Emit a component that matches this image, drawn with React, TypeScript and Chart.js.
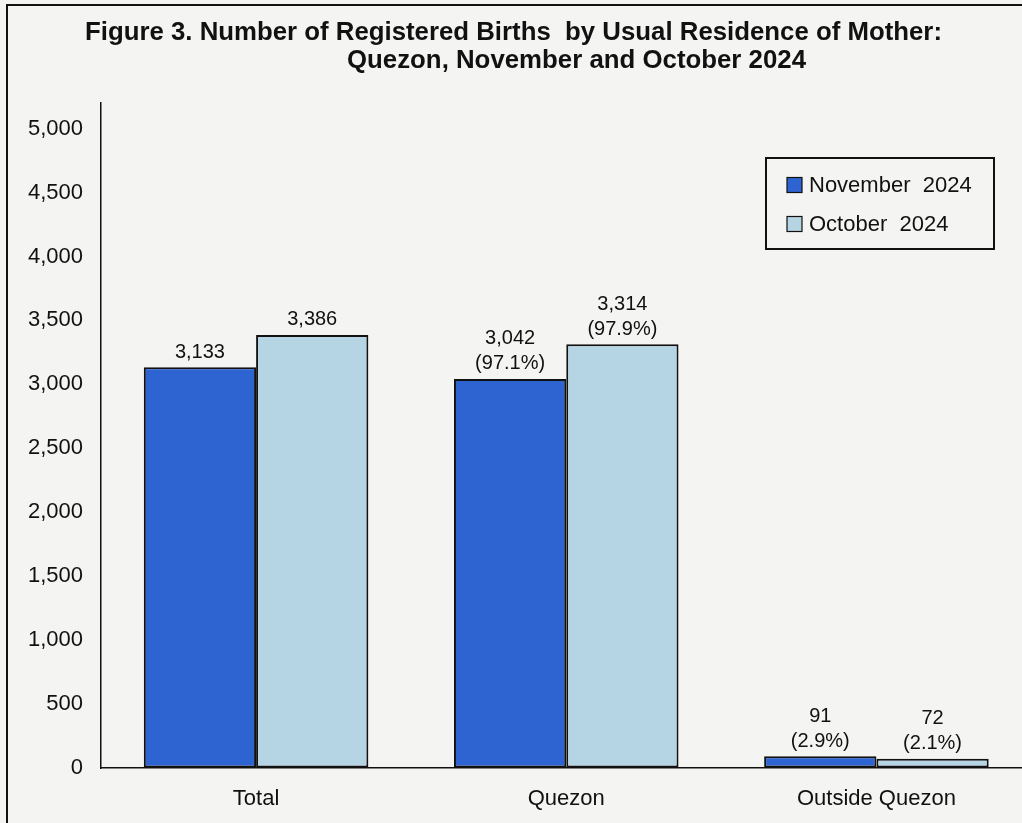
import React, { useEffect, useRef } from "react";
import { Chart, registerables } from "chart.js";

Chart.register(...registerables);

const categories = ["Total", "Quezon", "Outside Quezon"];
const novemberValues = [3133, 3042, 91];
const octoberValues = [3386, 3314, 72];
const novemberShares = ["", "(97.1%)", "(2.9%)"];
const octoberShares = ["", "(97.9%)", "(2.1%)"];
const seriesNames = ["November  2024", "October  2024"];
const titleLines = [
  "Figure 3. Number of Registered Births  by Usual Residence of Mother:",
  "Quezon, November and October 2024",
];
const yTickValues = [0, 500, 1000, 1500, 2000, 2500, 3000, 3500, 4000, 4500, 5000];

const NOV_COLOR = "#2e63d2";
const OCT_COLOR = "#b6d5e4";
const BG = "#f4f4f2";
const FONT = "'Liberation Sans', Arial, sans-serif";

const W = 1040;
const H = 823;

function drawScaledText(ctx: CanvasRenderingContext2D, text: string, x: number, y: number, width: number) {
  const m = ctx.measureText(text).width;
  ctx.save();
  ctx.translate(x, y);
  ctx.scale(width / m, 1);
  ctx.textAlign = "left";
  ctx.fillText(text, 0, 0);
  ctx.restore();
}

const decorPlugin = {
  id: "decor",
  beforeDraw(chart: any) {
    const ctx = chart.ctx;
    ctx.save();
    ctx.fillStyle = BG;
    ctx.fillRect(0, 0, chart.width, chart.height);
    ctx.restore();
  },
  afterDraw(chart: any) {
    const ctx: CanvasRenderingContext2D = chart.ctx;
    ctx.save();
    // outer frame
    ctx.strokeStyle = "#111";
    ctx.lineWidth = 2;
    ctx.strokeRect(7, 5, chart.width + 20, chart.height + 20);

    // title
    ctx.fillStyle = "#111";
    ctx.font = `bold 25px ${FONT}`;
    ctx.textBaseline = "alphabetic";
    drawScaledText(ctx, titleLines[0], 85, 40, 857);
    drawScaledText(ctx, titleLines[1], 347, 68, 459);

    // legend
    ctx.lineWidth = 2;
    ctx.strokeStyle = "#111";
    ctx.strokeRect(766, 158, 228, 91);
    const colors = [NOV_COLOR, OCT_COLOR];
    const rows = [185, 224];
    ctx.font = `22px ${FONT}`;
    ctx.textBaseline = "middle";
    seriesNames.forEach((name, i) => {
      ctx.fillStyle = colors[i];
      ctx.fillRect(787, rows[i] - 7.5, 15, 15);
      ctx.lineWidth = 1.2;
      ctx.strokeStyle = "#111";
      ctx.strokeRect(787, rows[i] - 7.5, 15, 15);
      ctx.fillStyle = "#111";
      ctx.textAlign = "left";
      ctx.fillText(name, 809, rows[i] + 1);
    });

    // data labels
    ctx.font = `20px ${FONT}`;
    ctx.textAlign = "center";
    ctx.textBaseline = "middle";
    ctx.fillStyle = "#111";
    const shares = [novemberShares, octoberShares];
    chart.data.datasets.forEach((ds: any, di: number) => {
      const meta = chart.getDatasetMeta(di);
      meta.data.forEach((bar: any, i: number) => {
        const lines = [Number(ds.data[i]).toLocaleString("en-US")];
        if (shares[di][i]) lines.push(shares[di][i]);
        const last = bar.y - 15;
        lines.forEach((t, li) => {
          const y = last - (lines.length - 1 - li) * 25;
          ctx.fillText(t, bar.x, y);
        });
      });
    });
    ctx.restore();
  },
};

export default function App() {
  const ref = useRef<HTMLCanvasElement | null>(null);
  useEffect(() => {
    document.body.style.margin = "0";
    document.body.style.overflow = "hidden";
    const canvas = ref.current!;
    const chart = new Chart(canvas, {
      type: "bar",
      data: {
        labels: categories,
        datasets: [
          {
            label: seriesNames[0],
            data: novemberValues,
            backgroundColor: NOV_COLOR,
            borderColor: "#111",
            borderWidth: 2,
            borderSkipped: false,
          },
          {
            label: seriesNames[1],
            data: octoberValues,
            backgroundColor: OCT_COLOR,
            borderColor: "#111",
            borderWidth: 2,
            borderSkipped: false,
          },
        ],
      },
      options: {
        responsive: false,
        animation: false,
        devicePixelRatio: 1,
        layout: { padding: { top: 103, right: 8.5, left: 0, bottom: 0 } },
        plugins: {
          legend: { display: false },
          title: { display: false },
          tooltip: { enabled: false },
        },
        datasets: {
          bar: { categoryPercentage: 0.724, barPercentage: 1 },
        },
        scales: {
          x: {
            grid: { display: true, drawOnChartArea: false, drawTicks: false },
            border: { display: true, color: "#111", width: 1.5 },
            ticks: {
              color: "#111",
              font: { family: FONT, size: 22 },
              padding: 18,
            },
            afterFit(scale: any) {
              scale.height = 55;
            },
          },
          y: {
            min: 0,
            max: 5200,
            grid: { display: true, drawOnChartArea: false, drawTicks: false },
            border: { display: true, color: "#111", width: 1.5 },
            ticks: {
              color: "#111",
              font: { family: FONT, size: 22 },
              padding: 18,
              callback: (v: any) => Number(v).toLocaleString("en-US"),
            },
            afterBuildTicks(scale: any) {
              scale.ticks = yTickValues.map((v) => ({ value: v }));
            },
            afterFit(scale: any) {
              scale.width = 101;
            },
          },
        },
      },
      plugins: [decorPlugin],
    });
    return () => chart.destroy();
  }, []);
  return (
    <div style={{ position: "absolute", left: 0, top: 0, width: 1022, height: 823, overflow: "hidden", background: BG }}>
      <canvas ref={ref} width={W} height={H} style={{ display: "block", width: W, height: H }} />
    </div>
  );
}
